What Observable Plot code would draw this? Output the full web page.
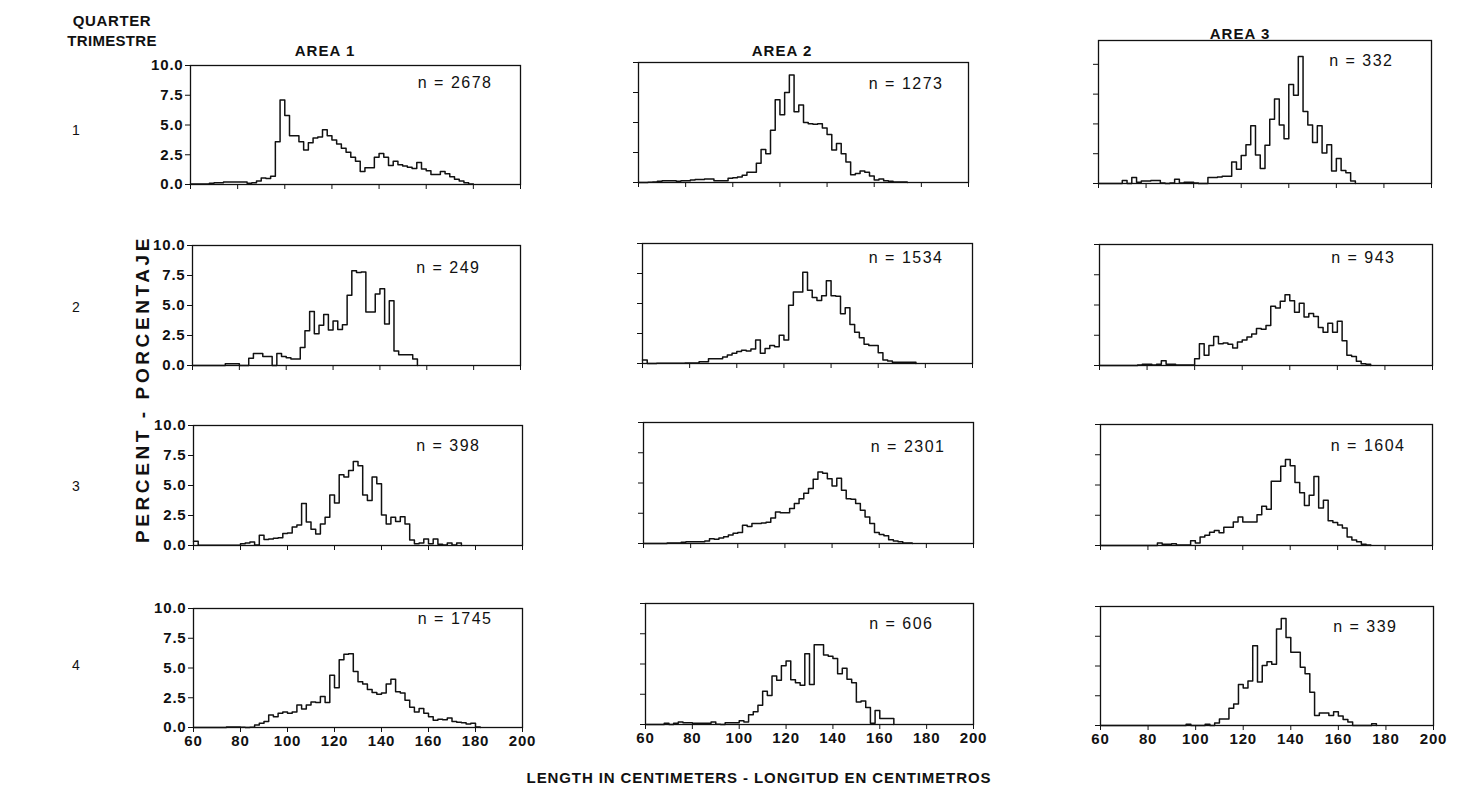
<!DOCTYPE html>
<html><head><meta charset="utf-8">
<script src="https://cdn.jsdelivr.net/npm/d3@7"></script>
<script src="https://cdn.jsdelivr.net/npm/@observablehq/plot@0.6"></script>
<style>
body{margin:0;background:#fff;}
#fig{position:relative;width:1466px;height:800px;font-family:"Liberation Sans",Arial,sans-serif;color:#111;overflow:hidden;}
.lbl{position:absolute;font-weight:bold;white-space:nowrap;transform:translate(-50%,-50%);line-height:1;}
.panel{position:absolute;}
</style></head><body><div id="fig"></div>
<script>
// ---- data (percent per 2-cm length class, starting at 60 cm) ----
const quarters = ["1", "2", "3", "4"];
const areas = ["AREA 1", "AREA 2", "AREA 3"];
const sampleSizes = [[2678, 1273, 332], [249, 1534, 943], [398, 2301, 1604], [1745, 606, 339]];
const xTicks = [60, 80, 100, 120, 140, 160, 180, 200];
const yTicks = [0, 2.5, 5, 7.5, 10];
const binStart = 60, binWidth = 2;

const a1q1 = [0.05,0.05,0.05,0.05,0.1,0.15,0.15,0.2,0.2,0.2,0.2,0.2,0.1,0.15,0.3,0.55,0.5,0.7,3.6,7.1,5.8,4.1,4.1,3.6,2.9,3.5,3.9,4.0,4.6,4.1,3.75,3.4,3.05,2.7,2.3,1.95,1.1,1.4,1.4,2.3,2.6,2.3,1.6,1.95,1.65,1.55,1.45,1.35,1.85,1.3,1.15,0.85,0.85,1.1,0.9,0.65,0.45,0.3,0.15,0.05];
const a2q1 = [0,0,0.02,0.05,0.1,0.15,0.15,0.15,0.1,0.15,0.15,0.2,0.25,0.25,0.3,0.3,0.15,0.15,0.15,0.35,0.4,0.45,0.6,0.85,0.85,1.6,2.75,2.4,4.35,6.9,5.65,7.5,8.95,5.9,6.45,5.0,4.9,4.85,4.9,4.55,4.0,2.7,3.25,2.4,1.7,0.65,0.75,0.95,0.85,0.55,0.2,0.3,0.15,0.1,0.05,0.05,0.05];
const a3q1 = [0,0,0,0,0,0.25,0,0.5,0.1,0.2,0.2,0.25,0.25,0.05,0,0.05,0.35,0.05,0.1,0.1,0.05,0,0,0.5,0.5,0.55,0.6,0.6,1.8,1.2,2.35,3.25,4.85,2.4,1.25,3.2,5.4,7.1,4.9,3.75,8.3,7.4,10.65,6.05,4.9,3.45,4.85,2.55,3.25,1.05,2.1,1.1,0.9,0.2];
const a1q2 = [0,0,0,0,0,0,0,0.15,0.15,0.15,0,0,0.6,1.0,1.0,0.75,0.75,0,1.0,0.75,0.65,0.55,0.55,1.5,2.9,4.5,2.65,3.35,4.25,2.95,3.7,3.0,3.4,5.85,7.9,7.75,7.8,4.45,4.45,5.95,6.4,3.45,5.4,1.2,0.9,0.9,0.9,0.55];
const a2q2 = [0.3,0,0,0.02,0.02,0.02,0.02,0.02,0.02,0.05,0.05,0.05,0.15,0.15,0.4,0.4,0.4,0.55,0.7,0.85,1.0,1.1,1.05,1.2,1.95,0.85,1.25,1.5,1.4,2.35,1.95,4.85,5.95,5.95,7.6,6.1,5.5,5.25,5.65,6.9,5.65,5.6,4.15,4.65,3.25,2.6,2.15,1.6,1.5,1.5,0.9,0.3,0.2,0.1,0.1,0.1,0.1,0.1];
const a3q2 = [0,0,0,0,0,0,0,0,0.05,0.1,0.1,0.05,0.1,0.4,0.1,0.1,0.05,0.05,0.05,0.05,0.55,1.8,0.85,1.65,2.4,1.8,1.85,1.75,1.45,1.95,2.1,2.35,2.6,3.05,3.0,3.3,4.9,4.75,5.3,5.85,5.35,4.4,5.15,4.0,4.3,4.05,3.15,2.75,3.5,2.75,3.65,2.05,0.85,0.75,0.35,0.15,0.1];
const a1q3 = [0.35,0.02,0.02,0.02,0.02,0.02,0.02,0.02,0.02,0.02,0.15,0.2,0.3,0.05,0.85,0.5,0.55,0.6,0.65,1.0,1.05,1.55,1.7,3.5,1.95,1.35,0.95,1.8,2.35,4.2,3.55,5.9,5.7,6.25,7.0,6.65,4.2,3.75,5.7,5.15,2.55,1.8,2.35,2.0,2.4,1.8,0.45,0.15,0.2,0.55,0.15,0.55,0.1,0.05,0.2,0.05,0.2];
const a2q3 = [0,0,0,0,0,0.05,0.05,0.05,0.1,0.15,0.15,0.15,0.15,0.2,0.4,0.35,0.45,0.55,0.7,0.85,0.9,1.5,1.4,1.65,1.65,1.7,1.75,2.1,2.6,2.55,2.55,2.9,3.3,3.7,4.15,4.55,5.3,5.9,5.8,5.35,4.75,5.4,4.4,3.7,3.65,3.3,2.75,2.2,1.65,0.9,0.75,0.65,0.3,0.2,0.15,0.05,0.05];
const a3q3 = [0,0,0,0,0,0,0,0,0,0,0,0,0.2,0.1,0.1,0.15,0.05,0.05,0.05,0.4,0.2,0.7,0.85,1.1,1.25,1.05,1.5,1.5,1.95,2.35,1.95,1.95,1.95,2.55,3.25,3.0,5.3,5.3,6.55,7.1,6.6,5.2,4.35,3.3,4.15,5.7,3.1,3.75,2.05,1.9,1.7,1.45,0.7,0.45,0.3,0.1,0.05];
const a1q4 = [0,0,0,0,0,0,0,0.05,0.05,0.05,0.02,0,0.02,0.2,0.35,0.5,1.05,0.9,1.2,1.3,1.2,1.3,1.9,1.55,1.9,2.15,2.1,2.6,2.1,4.4,3.35,5.7,6.15,6.2,4.7,3.85,3.65,3.2,2.95,2.8,2.9,3.65,4.05,3.0,2.9,2.3,1.7,1.3,1.6,1.2,0.9,0.6,0.7,0.65,0.8,0.5,0.45,0.4,0.3,0.35,0.05];
const a2q4 = [0,0,0,0,0.1,0,0.1,0.2,0.15,0.15,0.1,0.1,0.1,0.1,0.2,0.02,0,0.15,0.15,0.15,0.3,0.2,0.8,1.05,1.6,2.75,2.4,4.0,3.65,4.85,5.25,3.7,3.45,3.25,5.85,3.3,6.6,6.6,5.75,5.65,5.45,4.2,4.65,3.75,3.45,1.85,1.95,1.4,0.1,1.15,0.5,0.5,0.5];
const a3q4 = [0,0,0,0,0,0,0,0,0,0,0,0,0,0,0,0,0,0,0.1,0,0,0,0.1,0,0.2,0.55,0.55,1.45,1.8,3.45,3.15,3.75,6.7,3.65,5.05,5.35,5.15,8.1,9.0,7.4,6.15,6.15,4.9,4.35,2.8,0.85,1.05,1.05,0.85,1.15,0.8,0.5,0.3,0,0,0,0,0.15];

const series = [[a1q1, a2q1, a3q1], [a1q2, a2q2, a3q2], [a1q3, a2q3, a3q3], [a1q4, a2q4, a3q4]];

// ---- layout (page pixels of each panel frame) ----
const frames = [
  [{l:190,t:65,w:330,h:119,ymax:10,nx:28,ny:17},{l:638,t:62,w:330,h:120,ymax:10,nx:25,ny:21},{l:1098,t:40,w:333,h:143,ymax:12,nx:38,ny:20}],
  [{l:192,t:245,w:328,h:120,ymax:10,nx:40,ny:22},{l:642,t:243,w:330,h:120,ymax:10,nx:29,ny:14},{l:1099,t:244,w:333,h:121,ymax:10,nx:37,ny:13}],
  [{l:193,t:425,w:329,h:120,ymax:10,nx:42,ny:20},{l:643,t:422,w:330,h:121,ymax:10,nx:28,ny:24},{l:1100,t:424,w:332,h:121,ymax:10,nx:27,ny:21}],
  [{l:193,t:608,w:329,h:119,ymax:10,nx:30,ny:10},{l:645,t:603,w:328,h:121,ymax:10,nx:40,ny:20},{l:1100,t:606,w:333,h:119,ymax:10,nx:36,ny:20}]
];
const M = {l: 52, r: 8, t: 8, b: 30};

const fig = document.getElementById("fig");
function label(text, x, y, size, extra) {
  const d = document.createElement("div");
  d.className = "lbl";
  d.textContent = text;
  d.style.left = x + "px"; d.style.top = y + "px";
  d.style.fontSize = size + "px";
  if (extra) Object.assign(d.style, extra);
  fig.appendChild(d);
}

const fmtY = d3.format(".1f");
series.forEach((row, r) => {
  row.forEach((vals, c) => {
    const f = frames[r][c];
    const pts = vals.map((v, i) => ({x: binStart + binWidth * i, y: v}));
    pts.push({x: binStart + binWidth * vals.length, y: 0});
    const chart = Plot.plot({
      width: f.w + M.l + M.r,
      height: f.h + M.t + M.b,
      marginLeft: M.l, marginRight: M.r, marginTop: M.t, marginBottom: M.b,
      style: {background: "transparent", fontFamily: "'Liberation Sans', Arial, sans-serif", fontSize: "15px", color: "#111", overflow: "visible"},
      x: {domain: [60, 200]},
      y: {domain: [0, f.ymax]},
      marks: [
        Plot.axisX({ticks: xTicks, tickSize: 5, tickPadding: 3, label: null, fontWeight: "bold",
          tickFormat: r === 3 ? (d => String(d)) : (() => "")}),
        Plot.axisY({ticks: yTicks, tickSize: 5, tickPadding: 2, label: null, fontWeight: "bold",
          tickFormat: c === 0 ? fmtY : (() => "")}),
        Plot.line(pts, {x: "x", y: "y", curve: "step-after", stroke: "#111", strokeWidth: 1.5}),
        Plot.frame({stroke: "#111", strokeWidth: 1.3}),
        Plot.text([`n = ${sampleSizes[r][c]}`], {text: d => d, frameAnchor: "top-right",
          dx: -f.nx, dy: f.ny, textAnchor: "end", lineAnchor: "middle", fontSize: 16, fill: "#111"})
      ]
    });
    chart.classList.add("panel");
    chart.style.left = (f.l - M.l) + "px";
    chart.style.top = (f.t - M.t) + "px";
    const s = d3.select(chart);
    s.selectAll('g[aria-label="text"] text').style("letter-spacing", "1.5px");
    s.selectAll('g[aria-label$="tick label"]').attr("font-weight", "bold").style("letter-spacing", "0.8px");
    fig.appendChild(chart);
  });
});

// titles and labels
label("QUARTER", 112, 20, 15, {letterSpacing: "0.6px"});
label("TRIMESTRE", 112, 40, 15, {letterSpacing: "0.3px"});
const areaPos = [[325, 50], [782, 50], [1240, 33]];
areas.forEach((a, i) => label(a, areaPos[i][0], areaPos[i][1], 15, {letterSpacing: "1px"}));
const rowY = [130, 307, 486, 665];
quarters.forEach((q, i) => label(q, 76, rowY[i], 14, {fontWeight: "normal"}));
label("PERCENT - PORCENTAJE", 142, 389, 19, {transform: "translate(-50%,-50%) rotate(-90deg)", letterSpacing: "3.6px"});
label("LENGTH IN CENTIMETERS - LONGITUD EN CENTIMETROS", 759, 777, 15, {letterSpacing: "0.9px"});
</script></body></html>
